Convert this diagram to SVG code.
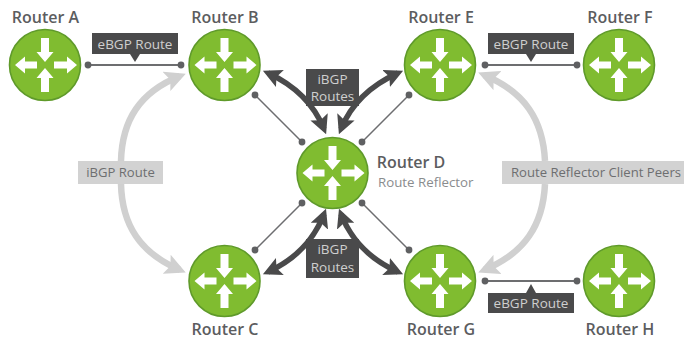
<svg xmlns="http://www.w3.org/2000/svg" width="684" height="339" viewBox="0 0 684 339">
<style>
text{font-family:"Open Sans","Liberation Sans",sans-serif}
.name{font-size:16px;font-weight:600;fill:#5c5d5f;text-anchor:middle}
.sub{font-size:13.300px;fill:#8a8c8e}
.dl{font-size:13.500px;fill:#cfcfcf;text-anchor:middle}
.gl{font-size:13.100px;fill:#6d6e70;text-anchor:middle}
.dbox{fill:#4a4a4b}
.gbox{fill:#d2d2d2}
.thin{fill:none;stroke:#6d6e70;stroke-width:1.500}
.flat{fill:none;stroke:#6d6e70;stroke-width:2}
.dot{fill:#5f6062}
.thick{fill:none;stroke:#4a4a4b;stroke-width:5.500}
.pale{fill:none;stroke:#d0d0d0;stroke-width:6.500}
</style>
<defs>
<marker id="ad" viewBox="0 0 10 10" refX="7" refY="5" markerWidth="3.400" markerHeight="3.400" orient="auto-start-reverse"><path d="M0,0L10,5L0,10L2,5Z" fill="#4a4a4b"/></marker>
<marker id="ag" viewBox="0 0 10 10" refX="7" refY="5" markerWidth="3.200" markerHeight="3.200" orient="auto"><path d="M0,0L10,5L0,10L2,5Z" fill="#d0d0d0"/></marker>
<g id="router">
<circle r="35.500" fill="#80bc30" stroke="#5f9a2a" stroke-width="1.600"/>
<path fill="#fff" d="M-4,-27V-13H-8.500L0,-3L8.500,-13H4,V-27Z"/>
<path fill="#fff" d="M-4,27V13H-8.500L0,3L8.500,13H4V27Z"/>
<path fill="#fff" d="M-8,-3.500H-20V-8.500L-30,0L-20,8.500V3.500H-8Z"/>
<path fill="#fff" d="M9,-3.500H22V-8.500L32,0L22,8.500V3.500H9Z"/>
</g>
</defs>
<g id="connectors">
<path class="pale" d="M121,161C122,120 140,92 180,76" marker-end="url(#ag)"/>
<path class="pale" d="M121,184C122,225 140,253 180,270" marker-end="url(#ag)"/>
<path class="pale" d="M545,161C543,120 525,92 484,75" marker-end="url(#ag)"/>
<path class="pale" d="M545,184C543,225 525,253 484,270" marker-end="url(#ag)"/>
<path class="thick" d="M268,73Q309,92 324,129" marker-start="url(#ad)" marker-end="url(#ad)"/>
<path class="thick" d="M398,73Q356,92 341,129" marker-start="url(#ad)" marker-end="url(#ad)"/>
<path class="thick" d="M268,272Q309,253 324,214" marker-start="url(#ad)" marker-end="url(#ad)"/>
<path class="thick" d="M398,272Q356,253 341,214" marker-start="url(#ad)" marker-end="url(#ad)"/>
<path class="flat" d="M88,65H181M485,65H577M485,281H577"/>
<path class="thin" d="M255,95L302,142M409,95L362,142M255,250L302,203M409,250L362,203"/>
<g class="dot">
<circle cx="88" cy="65" r="3.400"/><circle cx="181" cy="65" r="3.400"/>
<circle cx="485" cy="65" r="3.400"/><circle cx="577" cy="65" r="3.400"/>
<circle cx="485" cy="281" r="3.400"/><circle cx="577" cy="281" r="3.400"/>
<circle cx="255" cy="95" r="3.400"/><circle cx="302" cy="142" r="3.400"/>
<circle cx="409" cy="95" r="3.400"/><circle cx="362" cy="142" r="3.400"/>
<circle cx="255" cy="250" r="3.400"/><circle cx="302" cy="203" r="3.400"/>
<circle cx="409" cy="250" r="3.400"/><circle cx="362" cy="203" r="3.400"/>
</g>
</g>
<g id="labels">
<path class="dbox" d="M92,33H178V54H140L135,62L130,54H92Z"/>
<text class="dl" x="135" y="49">eBGP Route</text>
<path class="dbox" d="M488,33H574V54H536L531,62L526,54H488Z"/>
<text class="dl" x="531" y="49">eBGP Route</text>
<path class="dbox" d="M488,293H526L531,284L536,293H574V313H488Z"/>
<text class="dl" x="531" y="308">eBGP Route</text>
<rect class="dbox" x="306" y="69" width="53" height="37"/>
<text class="dl" x="332.500" y="84">iBGP</text><text class="dl" x="332.500" y="101">Routes</text>
<rect class="dbox" x="306" y="239" width="53" height="39"/>
<text class="dl" x="332.500" y="254">iBGP</text><text class="dl" x="332.500" y="272">Routes</text>
<rect class="gbox" x="78" y="161" width="85" height="23"/>
<text class="gl" x="120.500" y="177">iBGP Route</text>
<rect class="gbox" x="502" y="161" width="182" height="23"/>
<text class="gl" x="596" y="177">Route Reflector Client Peers</text>
</g>
<g id="router-a"><use href="#router" x="45" y="65"/><text class="name" x="45.500" y="23">Router A</text></g>
<g id="router-b"><use href="#router" x="224.500" y="65"/><text class="name" x="225" y="23">Router B</text></g>
<g id="router-c"><use href="#router" x="224.500" y="281"/><text class="name" x="225" y="335">Router C</text></g>
<g id="router-d"><use href="#router" x="332.500" y="173"/><text class="name" x="411" y="168">Router D</text><text class="sub" x="378" y="187">Route Reflector</text></g>
<g id="router-e"><use href="#router" x="440" y="65"/><text class="name" x="441" y="23">Router E</text></g>
<g id="router-f"><use href="#router" x="619" y="65"/><text class="name" x="620" y="23">Router F</text></g>
<g id="router-g"><use href="#router" x="440" y="281"/><text class="name" x="441" y="335">Router G</text></g>
<g id="router-h"><use href="#router" x="619" y="281"/><text class="name" x="620" y="335">Router H</text></g>
</svg>
